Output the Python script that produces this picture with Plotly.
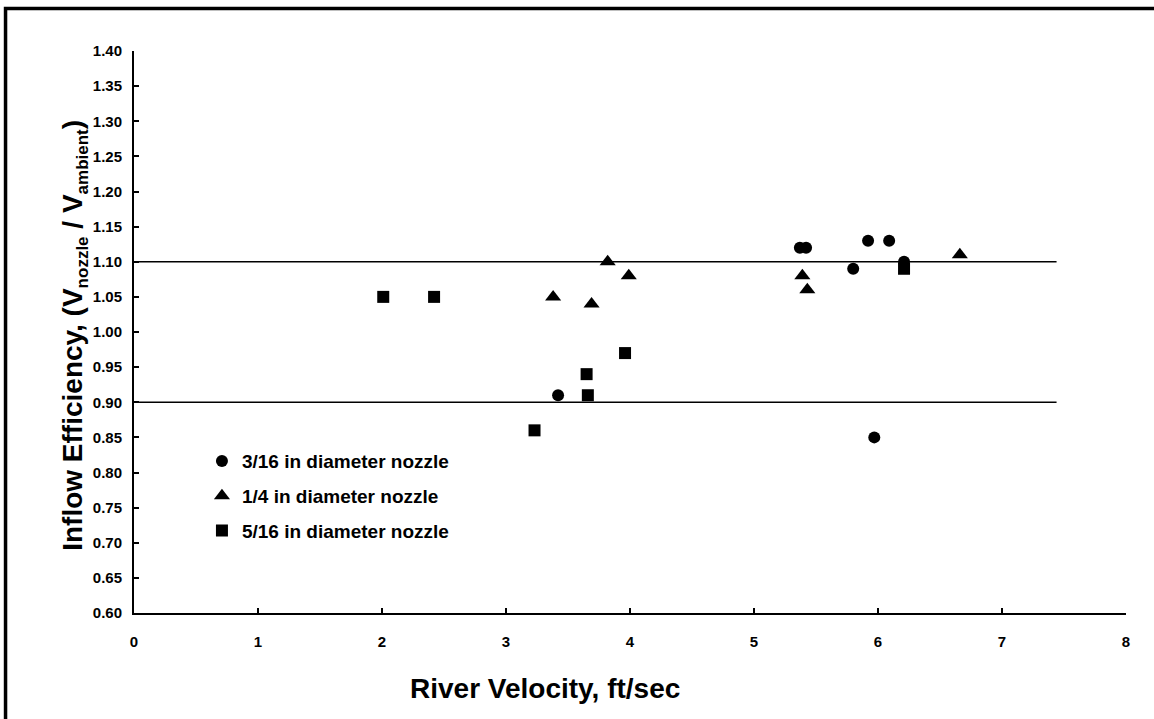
import plotly.graph_objects as go

# Data
x_316 = [3.42, 5.37, 5.42, 5.80, 5.92, 6.09, 6.21, 5.97]
y_316 = [0.91, 1.12, 1.12, 1.09, 1.13, 1.13, 1.10, 0.85]

x_14 = [3.38, 3.69, 3.82, 3.99, 5.39, 5.43, 6.66]
y_14 = [1.05, 1.04, 1.10, 1.08, 1.08, 1.06, 1.11]

x_516 = [2.01, 2.42, 3.23, 3.65, 3.66, 3.96, 6.21]
y_516 = [1.05, 1.05, 0.86, 0.94, 0.91, 0.97, 1.09]

ref_x = [0, 7.44]
ref_upper = [1.10, 1.10]
ref_lower = [0.90, 0.90]

x_ticks = [0, 1, 2, 3, 4, 5, 6, 7, 8]
y_ticks = [0.60, 0.65, 0.70, 0.75, 0.80, 0.85, 0.90, 0.95, 1.00, 1.05,
           1.10, 1.15, 1.20, 1.25, 1.30, 1.35, 1.40]

FONT = "Arial, Liberation Sans, sans-serif"

fig = go.Figure()

fig.add_trace(go.Scatter(x=ref_x, y=ref_upper, mode="lines",
                         line=dict(color="black", width=1.5),
                         showlegend=False, hoverinfo="skip"))
fig.add_trace(go.Scatter(x=ref_x, y=ref_lower, mode="lines",
                         line=dict(color="black", width=1.5),
                         showlegend=False, hoverinfo="skip"))

fig.add_trace(go.Scatter(x=x_316, y=y_316, mode="markers",
                         name="3/16 in diameter nozzle", legendgroup="a",
                         marker=dict(symbol="circle", size=12, color="black")))
fig.add_trace(go.Scatter(x=x_14, y=y_14, mode="markers",
                         name="1/4 in diameter nozzle", legendgroup="b",
                         marker=dict(symbol="triangle-up", size=14, color="black")))
fig.add_trace(go.Scatter(x=x_516, y=y_516, mode="markers",
                         name="5/16 in diameter nozzle", legendgroup="c",
                         marker=dict(symbol="square", size=12, color="black")))

fig.update_layout(
    width=1154, height=719,
    paper_bgcolor="white", plot_bgcolor="white",
    margin=dict(l=134, r=28, t=51, b=106),
    font=dict(family=FONT, color="black"),
    showlegend=True,
    legend=dict(x=0.0685, y=0.304, xanchor="left", yanchor="top",
                bgcolor="rgba(0,0,0,0)",
                font=dict(family=FONT, size=19, color="black", weight="bold"),
                tracegroupgap=7, itemwidth=30),
    xaxis=dict(range=[0, 8], tickvals=x_ticks, ticktext=[str(v) for v in x_ticks],
               showgrid=False, zeroline=False, showline=True,
               linecolor="black", linewidth=2,
               ticks="inside", ticklen=5, tickcolor="black", tickwidth=1.5,
               ticklabelstandoff=14,
               tickfont=dict(family=FONT, size=15, color="black", weight="bold")),
    yaxis=dict(range=[0.60, 1.40], tickvals=y_ticks,
               ticktext=[f"{v:.2f}" for v in y_ticks],
               showgrid=False, zeroline=False, showline=True,
               linecolor="black", linewidth=2,
               ticks="inside", ticklen=5, tickcolor="black", tickwidth=1.5,
               ticklabelstandoff=7,
               tickfont=dict(family=FONT, size=15, color="black", weight="bold")),
    annotations=[
        dict(text="<b>River Velocity, ft/sec</b>", xref="paper", yref="paper",
             x=0.414, y=-0.135, xanchor="center", yanchor="middle", showarrow=False,
             font=dict(family=FONT, size=28, color="black")),
        dict(text="<b>Inflow Efficiency, (V<sub><span style='font-size:17px'>nozzle</span></sub>"
                  " / V<sub><span style='font-size:17px'>ambient</span></sub>)</b>",
             xref="paper", yref="paper", x=-0.0595, y=0.495, xanchor="center",
             yanchor="middle", textangle=-90, showarrow=False,
             font=dict(family=FONT, size=28, color="black")),
    ],
    shapes=[dict(type="rect", xref="paper", yref="paper",
                 x0=-0.1295, x1=1.2, y0=-0.3, y1=1.0756,
                 line=dict(color="black", width=3.5), fillcolor="rgba(0,0,0,0)")],
)

fig.write_html("out.html", config={"displayModeBar": False},
               post_script="document.body.style.margin='0px';")
